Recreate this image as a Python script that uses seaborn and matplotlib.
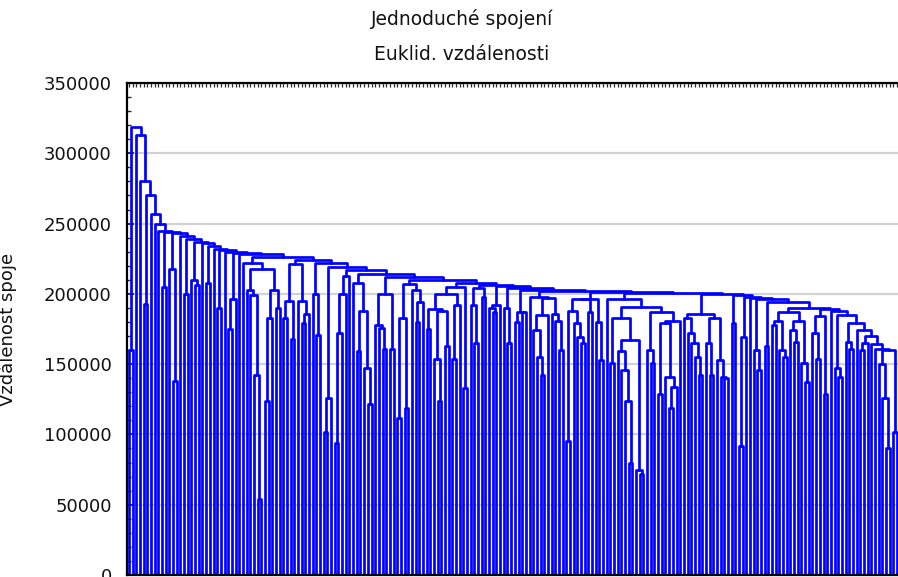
import sys
import numpy as np
import pandas as pd
import matplotlib
matplotlib.use("Agg")
import matplotlib.pyplot as plt
import seaborn as sns

# Linkage distance between each pair of neighbouring objects in the tree order
# (single linkage, Euclidean distance), in thousands.
link_heights_k = [
    160, 319, 313, 280, 193, 270, 257, 250, 245, 205,
    244, 218, 138, 243, 241, 200, 239, 210, 206, 237,
    236, 208, 234, 232, 190, 231, 230, 175, 196, 229,
    228.5, 222, 203, 199, 142, 54, 218, 124, 183, 203,
    190, 226, 183, 195, 168, 221, 195, 179, 186, 224,
    200, 171, 222, 102, 126, 219, 94, 172, 200, 213,
    217, 208, 159, 188, 147, 122, 214, 178, 176, 161,
    200, 161, 212, 112, 183, 119, 207, 203, 180, 194,
    210, 175, 189, 154, 124, 188, 163, 200, 154, 192,
    205, 133, 208, 192, 165, 204, 198, 206, 190, 187,
    192, 205.5, 190, 165, 204.5, 180, 187, 187, 202.5, 198,
    174, 155, 142, 185, 197, 186, 181, 160, 201.8, 95,
    188, 179, 169, 165, 196, 187, 196.5, 180, 153, 201.2,
    196, 151, 183, 159, 146, 124, 80, 167, 75, 72,
    191, 160, 151, 187, 129, 179, 141, 119, 134, 181,
    200.6, 183, 172, 165, 155, 142, 186, 165, 142, 183,
    153, 141, 140, 200.2, 179, 199.5, 92, 169, 198, 197,
    160, 146, 196, 163, 194.5, 178, 181, 160, 155, 187,
    174, 166, 181, 151, 137, 190, 172, 154, 184, 129,
    189.5, 187.5, 147, 141, 185, 166, 161, 179, 174, 160,
    165, 170, 164, 161, 150, 126, 90, 160, 102,
]
y_ticks = [0, 50000, 100000, 150000, 200000, 250000, 300000, 350000]
title = "Jednoduché spojení"
subtitle = "Euklid. vzdálenosti"
y_label = "Vzdálenost spoje"

heights = np.asarray(link_heights_k, dtype=float) * 1000.0
n_leaves = len(heights) + 1

# Build the tree: the largest neighbour distance is the last merge of each range.
rows = []


def build(lo, hi):
    if lo == hi:
        return float(lo), 0.0
    k = lo + int(np.argmax(heights[lo:hi]))
    xl, hl = build(lo, k)
    xr, hr = build(k + 1, hi)
    h = heights[k]
    link = len(rows) // 4
    for order, (px, py) in enumerate([(xl, hl), (xl, h), (xr, h), (xr, hr)]):
        rows.append({"link": link, "order": order, "x": px, "y": py})
    return (xl + xr) / 2.0, h


sys.setrecursionlimit(5000)
build(0, n_leaves - 1)
links = pd.DataFrame(rows)

sns.set_theme(style="white")
plt.rcParams["font.family"] = ["DejaVu Sans"]

W, H = 898, 577
fig = plt.figure(figsize=(W / 100, H / 100), dpi=100)
ax = fig.add_axes([127 / W, 2 / H, (W - 127) / W, (575 - 83) / H])

sns.lineplot(data=links, x="x", y="y", units="link", estimator=None, sort=False,
             color="#0000ff", linewidth=1.95, ax=ax, legend=False)

ax.set_xlim(-0.54, n_leaves - 1 + 0.27)
ax.set_ylim(0, 350000)

ax.set_axisbelow(True)
ax.yaxis.grid(True, color="#d2d2d2", linewidth=1.6)
ax.xaxis.grid(False)

for side in ["left", "top", "bottom"]:
    ax.spines[side].set_visible(True)
    ax.spines[side].set_color("black")
    ax.spines[side].set_linewidth(1.6)
ax.spines["right"].set_visible(False)

ax.set_yticks(y_ticks)
ax.set_yticklabels([str(v) for v in y_ticks])
ax.set_yticks(np.arange(0, 350001, 10000), minor=True)
ax.tick_params(axis="y", which="major", direction="in", length=5, width=1.2,
               labelsize=13, pad=11, colors="#111111", left=True)
ax.tick_params(axis="y", which="minor", direction="in", length=3, width=1.0, left=True)

ax.set_xticks(np.arange(n_leaves))
ax.set_xticklabels([])
ax.tick_params(axis="x", which="major", direction="in", length=3, width=0.9,
               top=True, bottom=True, labelbottom=False)

ax.set_xlabel("")
ax.set_ylabel(y_label, fontsize=13, color="#111111")
ax.yaxis.set_label_coords(-0.1427, 0.5)

fig.text(462 / W, 1 - 19 / H, title, ha="center", va="center", fontsize=13.5, color="#111111")
fig.text(462 / W, 1 - 55 / H, subtitle, ha="center", va="center", fontsize=13.5, color="#111111")

fig.savefig("out.png", dpi=100)
